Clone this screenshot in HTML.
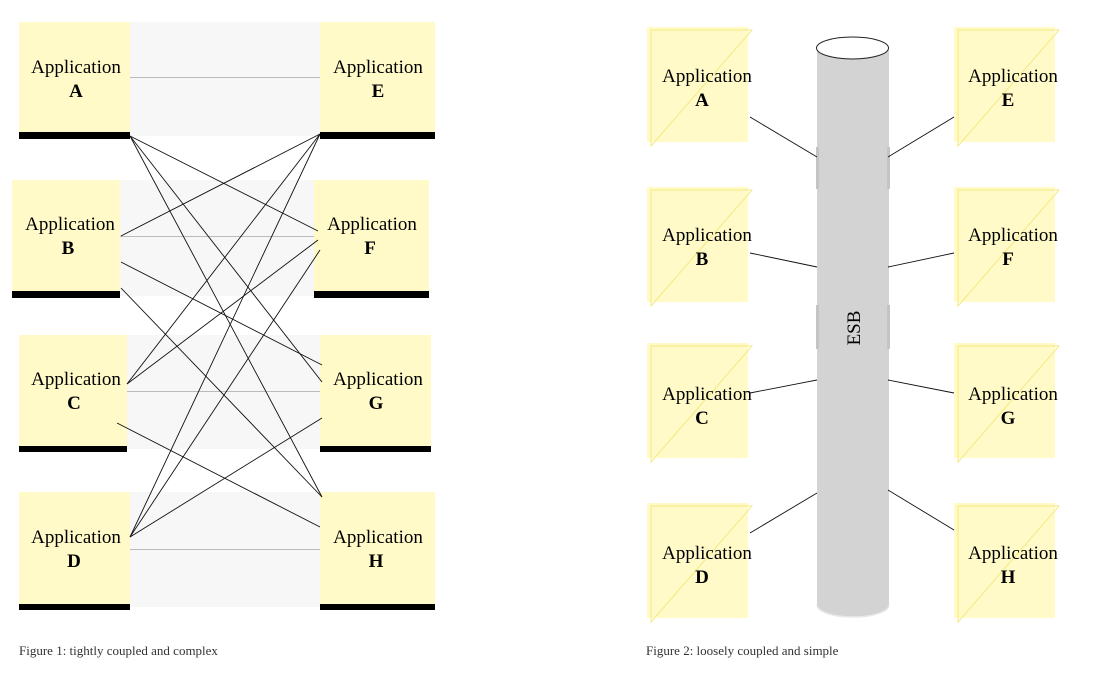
<!DOCTYPE html>
<html><head><meta charset="utf-8"><style>
html,body{margin:0;padding:0;background:#fff;}
svg{display:block;}
svg text{font-family:"Liberation Serif","Times New Roman",Times,serif;}
</style></head><body>
<svg width="1107" height="676" viewBox="0 0 1107 676" xmlns="http://www.w3.org/2000/svg" font-family="Liberation Serif, Times New Roman, serif">
<g fill="#f7f7f7">
<rect x="130" y="22" width="190" height="114"/>
<rect x="120" y="180" width="194" height="116"/>
<rect x="127" y="335" width="193" height="114"/>
<rect x="130" y="492" width="190" height="115"/>
</g>
<g stroke="#bbb" stroke-width="1">
<line x1="130" y1="77.5" x2="320" y2="77.5"/>
<line x1="120" y1="236.5" x2="314" y2="236.5"/>
<line x1="127" y1="391.5" x2="320" y2="391.5"/>
<line x1="130" y1="549.5" x2="320" y2="549.5"/>
</g>
<g fill="#fffac8">
<rect x="19" y="22" width="111" height="111"/>
<rect x="320" y="22" width="115" height="111"/>
<rect x="12" y="180" width="108" height="112"/>
<rect x="314" y="180" width="115" height="112"/>
<rect x="19" y="335" width="108" height="111"/>
<rect x="320" y="335" width="111" height="111"/>
<rect x="19" y="492" width="111" height="112"/>
<rect x="320" y="492" width="115" height="112"/>
</g>
<g fill="#000">
<rect x="19" y="132" width="111" height="7"/>
<rect x="320" y="132" width="115" height="7"/>
<rect x="12" y="291" width="108" height="7"/>
<rect x="314" y="291" width="115" height="7"/>
<rect x="19" y="446" width="108" height="6"/>
<rect x="320" y="446" width="111" height="6"/>
<rect x="19" y="604" width="111" height="6"/>
<rect x="320" y="604" width="115" height="6"/>
</g>
<g stroke="#111" stroke-width="0.9" fill="none">
<line x1="130" y1="136" x2="318" y2="231"/>
<line x1="130" y1="136" x2="322" y2="382"/>
<line x1="130" y1="136" x2="322" y2="497"/>
<line x1="320" y1="134" x2="121" y2="236"/>
<line x1="320" y1="134" x2="127" y2="384"/>
<line x1="320" y1="134" x2="130" y2="537"/>
<line x1="121" y1="262" x2="322" y2="365"/>
<line x1="121" y1="288" x2="322" y2="497"/>
<line x1="127" y1="384" x2="318" y2="240"/>
<line x1="117" y1="423" x2="320" y2="527"/>
<line x1="130" y1="537" x2="320" y2="250"/>
<line x1="130" y1="537" x2="322" y2="418"/>
</g>
<g font-size="19" text-anchor="middle" fill="#000">
<text x="76" y="73">Application</text><text x="76" y="97" font-weight="bold">A</text>
<text x="378" y="73">Application</text><text x="378" y="97" font-weight="bold">E</text>
<text x="70" y="230">Application</text><text x="68" y="254" font-weight="bold">B</text>
<text x="372" y="230">Application</text><text x="370" y="254" font-weight="bold">F</text>
<text x="76" y="385">Application</text><text x="74" y="409" font-weight="bold">C</text>
<text x="378" y="385">Application</text><text x="376" y="409" font-weight="bold">G</text>
<text x="76" y="543">Application</text><text x="74" y="567" font-weight="bold">D</text>
<text x="378" y="543">Application</text><text x="376" y="567" font-weight="bold">H</text>
</g>
<text x="19" y="655" font-size="13" fill="#333">Figure 1: tightly coupled and complex</text>

<path d="M817 48 L817 605 A36 12 0 0 0 889 605 L889 48 Z" fill="#d3d3d3"/>
<path d="M817 605 A36 12 0 0 0 889 605" fill="none" stroke="#e8e8e8" stroke-width="1.5"/>
<g fill="#c4c4c4">
<rect x="816" y="147" width="3" height="42"/><rect x="887" y="147" width="3" height="42"/>
<rect x="816" y="305" width="3" height="44"/><rect x="887" y="305" width="3" height="44"/>
</g>
<ellipse cx="852.5" cy="48" rx="36" ry="11" fill="#fff" stroke="#222" stroke-width="1"/>
<text transform="translate(860,328) rotate(-90)" font-size="19" text-anchor="middle" fill="#000">ESB</text>
<g fill="#fffac8">
<rect x="647" y="27" width="101" height="115"/>
<rect x="954" y="27" width="101" height="115"/>
<rect x="647" y="187" width="101" height="115"/>
<rect x="954" y="187" width="101" height="115"/>
<rect x="647" y="343" width="101" height="115"/>
<rect x="954" y="343" width="101" height="115"/>
<rect x="647" y="503" width="101" height="115"/>
<rect x="954" y="503" width="101" height="115"/>
</g>
<g stroke="#f3ea80" stroke-width="1" fill="none">
<path d="M651 146 L651 30 L752 30 Z"/><path d="M958 146 L958 30 L1059 30 Z"/>
<path d="M651 306 L651 190 L752 190 Z"/><path d="M958 306 L958 190 L1059 190 Z"/>
<path d="M651 462 L651 346 L752 346 Z"/><path d="M958 462 L958 346 L1059 346 Z"/>
<path d="M651 622 L651 506 L752 506 Z"/><path d="M958 622 L958 506 L1059 506 Z"/>
</g>
<g stroke="#111" stroke-width="0.9">
<line x1="750" y1="117" x2="817" y2="157"/>
<line x1="954" y1="117" x2="888" y2="157"/>
<line x1="750" y1="253" x2="817" y2="267"/>
<line x1="954" y1="253" x2="888" y2="267"/>
<line x1="750" y1="393" x2="817" y2="380"/>
<line x1="954" y1="393" x2="888" y2="380"/>
<line x1="750" y1="533" x2="817" y2="493"/>
<line x1="954" y1="530" x2="888" y2="490"/>
</g>
<g font-size="19" text-anchor="middle" fill="#000">
<text x="707" y="82">Application</text><text x="702" y="106" font-weight="bold">A</text>
<text x="1013" y="82">Application</text><text x="1008" y="106" font-weight="bold">E</text>
<text x="707" y="241">Application</text><text x="702" y="265" font-weight="bold">B</text>
<text x="1013" y="241">Application</text><text x="1008" y="265" font-weight="bold">F</text>
<text x="707" y="400">Application</text><text x="702" y="424" font-weight="bold">C</text>
<text x="1013" y="400">Application</text><text x="1008" y="424" font-weight="bold">G</text>
<text x="707" y="559">Application</text><text x="702" y="583" font-weight="bold">D</text>
<text x="1013" y="559">Application</text><text x="1008" y="583" font-weight="bold">H</text>
</g>
<text x="646" y="655" font-size="13" fill="#333">Figure 2: loosely coupled and simple</text>
</svg>
</body></html>
